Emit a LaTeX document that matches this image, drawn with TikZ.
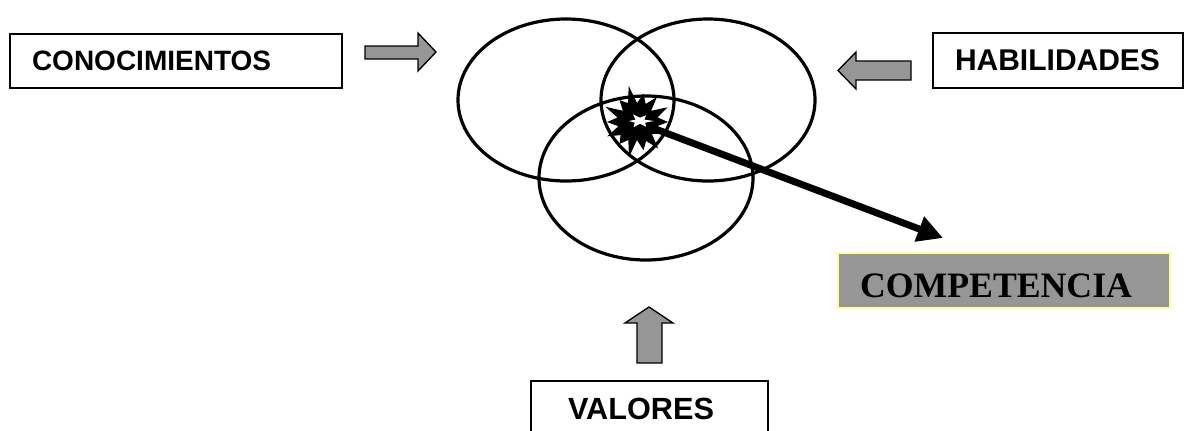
\documentclass[tikz,border=0pt]{standalone}
\usepackage{fontspec}
\setmainfont{Liberation Serif}
\setsansfont{Liberation Sans}
\usetikzlibrary{arrows.meta}

\definecolor{arrowgray}{RGB}{150,150,150}
\definecolor{boxyellow}{RGB}{255,255,153}

\tikzset{
  sabox/.style={draw, line width=1.4pt, inner xsep=16.5pt, inner ysep=0pt, align=left, font=\sffamily\bfseries\fontsize{22.5}{27}\selectfont},
  blockarrow/.style={draw, line width=1pt, fill=arrowgray},
  venn/.style={line width=2.4pt},
}

\begin{document}
\begin{tikzpicture}[x=0.75pt,y=0.75pt,yscale=-1,xscale=1]
        \useasboundingbox (0,0) rectangle (1184,430);

        %Shape: Ellipse [conocimientos]
        \draw [venn] (566,100) ellipse [x radius=108, y radius=81];
        %Shape: Ellipse [habilidades]
        \draw [venn] (708,100) ellipse [x radius=107, y radius=81];
        %Shape: Ellipse [valores]
        \draw [venn] (646,178) ellipse [x radius=107, y radius=82];

        %Shape: Right Arrow
        \draw [blockarrow] (365,46) -- (418,46) -- (418,33) -- (436,52) -- (418,71) -- (418,59) -- (365,59) -- cycle ;
        %Shape: Left Arrow
        \draw [blockarrow] (911,61) -- (856,61) -- (856,52) -- (838,70.5) -- (856,89) -- (856,80) -- (911,80) -- cycle ;
        %Shape: Up Arrow
        \draw [blockarrow] (637,363) -- (637,323) -- (625,323) -- (649,307) -- (673,323) -- (662,323) -- (662,363) -- cycle ;

        % Text Node
        \node [sabox, text width=216pt, minimum height=40.5pt, font=\sffamily\bfseries\fontsize{21}{25}\selectfont] (conoc) at (176,61) {CONOCIMIENTOS};
        % Text Node
        \node [sabox, text width=154.5pt, minimum height=41.25pt] (habil) at (1058,60.5) {HABILIDADES};
        % Text Node
        \node [sabox, inner xsep=27.75pt, text width=122.25pt, minimum height=42pt, font=\sffamily\bfseries\fontsize{23}{27}\selectfont] (valor) at (649.5,409) {VALORES};
        % Text Node
        \node [draw=boxyellow, line width=1.1pt, fill=arrowgray, inner xsep=16.5pt, inner ysep=0pt, text width=216pt, align=left, minimum height=41.25pt, text height=26pt, text depth=0pt, font=\rmfamily\bfseries\fontsize{26.8}{30}\selectfont] (comp) at (1004,280.5) {COMPETENCIA};

        %Straight Lines [arrow to competencia]
        \coordinate (star) at (637,122);
        \coordinate (tip) at (943,238);
        \draw [line width=5.2pt, -{Triangle[length=19pt, width=19pt]}] (star) -- (tip) ;

        %Shape: Starburst
        \fill [shift={(star)}] (0:31) \foreach \r [count=\i] in {20,27,19,34,21,29,18,36,20,28,21,33,19,30,20,35,18,28,21,37,19,29,20,32,18,34,21} { -- (\i*360/28:\r) } -- cycle ;
        \fill [white, shift={(640,121)}, yscale=0.55] (0:14) \foreach \r [count=\i] in {6,12,5,13,6,11,5,14,6,12,5} { -- (\i*30:\r) } -- cycle ;

\end{tikzpicture}
\end{document}
